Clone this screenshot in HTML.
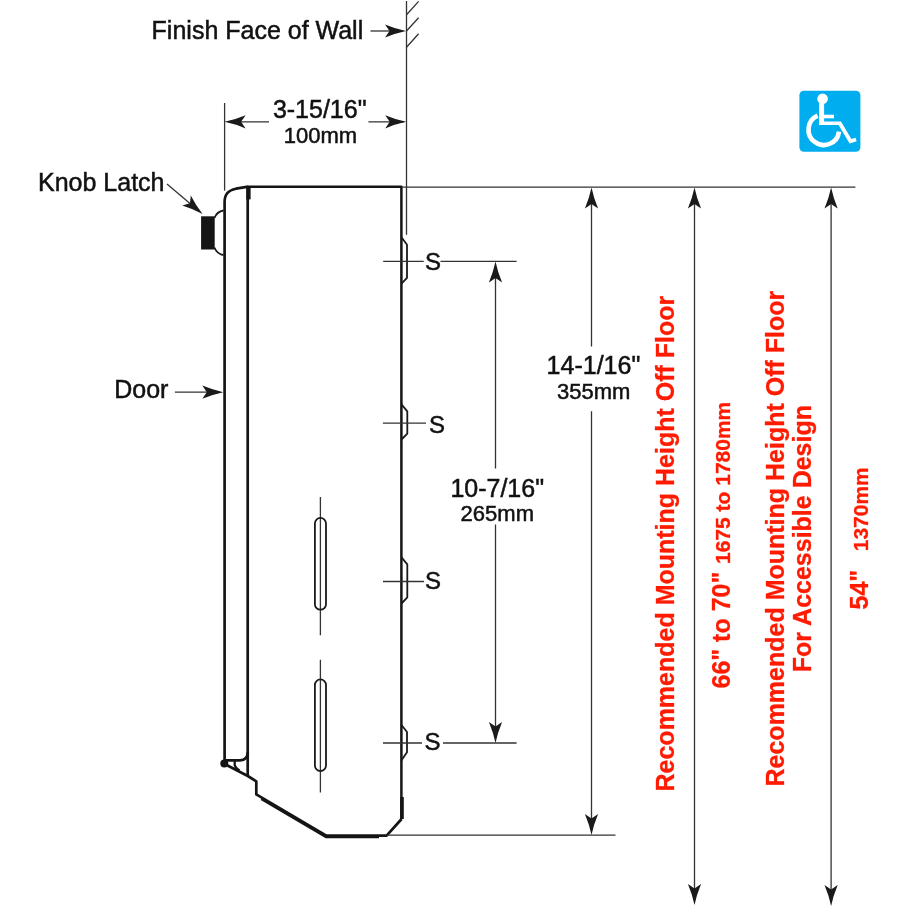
<!DOCTYPE html>
<html>
<head>
<meta charset="utf-8">
<style>
html,body{margin:0;padding:0;background:#fff;}
body{width:908px;height:908px;overflow:hidden;}
svg{display:block;will-change:transform;}
text{font-family:"Liberation Sans",sans-serif;}
.k{fill:#111;stroke:#111;stroke-width:0.5;}
.r{fill:#ff1a00;font-weight:700;stroke:#ff1a00;stroke-width:0.3;}
.thin{stroke:#333;stroke-width:1.3;fill:none;}
.med{stroke:#1a1a1a;stroke-width:1.8;fill:none;}
.thick{stroke:#151515;stroke-width:2.7;fill:none;stroke-linejoin:round;}
.ah{fill:#1a1a1a;}
</style>
</head>
<body>
<svg width="908" height="908" viewBox="0 0 908 908">
<defs>
  <!-- arrowhead pointing +x, tip at origin -->
  <path id="arr" d="M0,0 Q-10.5,-2.2 -21,-6.6 L-16.5,0 L-21,6.6 Q-10.5,2.2 0,0Z"/>
</defs>

<!-- ===== Labels (black) ===== -->
<text class="k" x="151.6" y="38.8" font-size="25">Finish Face of Wall</text>
<text class="k" x="38" y="191" font-size="25">Knob Latch</text>
<text class="k" x="114.2" y="397.9" font-size="25">Door</text>
<text class="k" x="272.9" y="118" font-size="25">3-15/16"</text>
<text class="k" x="283.8" y="142.9" font-size="22">100mm</text>
<text class="k" x="450.4" y="497" font-size="25">10-7/16"</text>
<text class="k" x="460.6" y="520.6" font-size="22">265mm</text>
<text class="k" x="546.6" y="373.7" font-size="25">14-1/16"</text>
<text class="k" x="557" y="398.5" font-size="22">355mm</text>
<text class="k" x="425" y="269.5" font-size="24">S</text>
<text class="k" x="429" y="432.8" font-size="24">S</text>
<text class="k" x="425" y="589.3" font-size="24">S</text>
<text class="k" x="424.5" y="750.2" font-size="24">S</text>

<!-- ===== Red vertical labels ===== -->
<text class="r" font-size="25" transform="translate(673.8,791.5) rotate(-90)">Recommended Mounting Height Off Floor</text>
<text class="r" font-size="25" transform="translate(730,688.5) rotate(-90)">66" to 70"</text>
<text class="r" font-size="21" transform="translate(730,564) rotate(-90)">1675 to 1780mm</text>
<text class="r" font-size="25" text-anchor="middle" transform="translate(783.5,538.6) rotate(-90)">Recommended Mounting Height Off Floor</text>
<text class="r" font-size="25" text-anchor="middle" transform="translate(811,538.6) rotate(-90)">For Accessible Design</text>
<text class="r" font-size="25" transform="translate(868.4,609.5) rotate(-90)">54"</text>
<text class="r" font-size="21" transform="translate(868.4,551.3) rotate(-90)">1370mm</text>

<!-- ===== Wall ===== -->
<path class="thin" d="M406.5,1 V234.8"/>
<path class="thin" d="M406.5,14.8 L418.6,1.4 M406.5,31 L418.6,17.8 M406.5,47.2 L418.6,33.7"/>
<path class="thin" d="M370.5,31 H392"/>
<use href="#arr" class="ah" transform="translate(406,31)"/>

<!-- 3-15/16 dim -->
<path class="thin" d="M224.6,103 V190.6"/>
<path class="thin" d="M228,121.8 H269 M368.4,121.8 H404"/>
<use href="#arr" class="ah" transform="translate(224.6,121.8) rotate(180)"/>
<use href="#arr" class="ah" transform="translate(406.2,121.8)"/>

<!-- Knob latch arrow -->
<path class="thin" d="M167,184 L190,203.5"/>
<use href="#arr" class="ah" transform="translate(202.6,214) rotate(40.1)"/>

<!-- Door arrow -->
<path class="thin" d="M174.9,392.2 H208"/>
<use href="#arr" class="ah" transform="translate(223.3,392.2)"/>

<!-- ===== Body ===== -->
<!-- knob -->
<rect x="201.1" y="216.3" width="13.6" height="33.2" fill="#151515"/>
<path class="med" d="M214.4,218 Q217,211.5 223.5,210.5 M214.4,247.5 Q217,254 223.5,255"/>
<!-- door outer -->
<path class="thick" d="M224.6,760.3 V202 C224.6,194 228,190.5 236,188.7 L248.3,186.7"/>
<!-- top -->
<path class="thick" style="stroke-width:2.5" d="M247.7,186.7 H401.4 V819"/>
<!-- inner line -->
<path class="thick" d="M247.7,186.7 V776"/>
<path d="M246.3,186 h4.3 v13.4 h-4.3z" fill="#151515"/>
<!-- door bottom -->
<path class="thick" d="M224.6,760.3 H240 Q247.8,760 247.8,752"/>
<circle cx="224.3" cy="763.5" r="4" fill="#151515"/>
<path class="thick" d="M224.6,764 L247.8,776 L256.3,781.3 V794.4 L326.3,835.6 H386.6 L401.6,819"/>
<path class="thick" style="stroke-width:2.3" d="M234.7,761 V765 Q235.5,768.5 239.5,770.5"/>
<!-- thick outline extras -->
<path d="M261.4,798.8 L326,836.8 H379" stroke="#151515" stroke-width="2.8" fill="none" stroke-linejoin="round"/>
<path d="M400.2,797 h3.6 v22 h-3.6z" fill="#151515"/>

<!-- brackets -->
<path class="med" d="M401.5,237.3 L407,244.7 V277.8 L401.5,283.6"/>
<path class="med" d="M401.5,404.4 L407.3,411.3 V433.6 L401.5,439.5"/>
<path class="med" d="M401.5,557.4 L407.3,564.3 V597.5 L401.5,603.5"/>
<path class="med" d="M401.5,725 L407,732 V752.3 L401.5,760.2"/>

<!-- S lines -->
<path class="thin" d="M383.2,261.3 H423.7 M440.5,261.3 H516.6"/>
<path class="thin" d="M382.9,423.2 H426"/>
<path class="thin" d="M383,581.5 H424"/>
<path class="thin" d="M383,743 H422 M443,743 H516.6"/>

<!-- slots -->
<path class="thin" d="M320.4,497.1 V635.3 M320.4,659.8 V792.6"/>
<rect x="314.9" y="517.9" width="11.1" height="91.8" rx="5.55" class="med"/>
<rect x="314.9" y="679.4" width="11.1" height="91.7" rx="5.55" class="med"/>

<!-- 10-7/16 dim -->
<path class="thin" d="M495.5,270 V468.5 M495.5,524.4 V735"/>
<use href="#arr" class="ah" transform="translate(495.5,261.4) rotate(-90)"/>
<use href="#arr" class="ah" transform="translate(495.5,743) rotate(90)"/>

<!-- extension lines -->
<path class="thin" d="M402,187.1 H855.4"/>
<path class="thin" d="M386.6,835.2 H615.5"/>

<!-- 14-1/16 dim -->
<path class="thin" d="M591.5,195 V346.5 M591.5,411.3 V828"/>
<use href="#arr" class="ah" transform="translate(591.5,187.5) rotate(-90)"/>
<use href="#arr" class="ah" transform="translate(591.5,835) rotate(90)"/>

<!-- long dims -->
<path class="thin" d="M694.5,195 V897 M831.1,195 V898"/>
<use href="#arr" class="ah" transform="translate(694.5,187.5) rotate(-90)"/>
<use href="#arr" class="ah" transform="translate(694.5,905) rotate(90)"/>
<use href="#arr" class="ah" transform="translate(831.1,187.5) rotate(-90)"/>
<use href="#arr" class="ah" transform="translate(831.1,906) rotate(90)"/>

<!-- ===== Wheelchair icon ===== -->
<rect x="799.4" y="90.7" width="61" height="61" rx="4.5" fill="#00aeef"/>
<g fill="#fff">
  <circle cx="822.6" cy="98.8" r="5.3"/>
  <rect x="819.1" y="99" width="5" height="26"/>
  <rect x="819" y="114.7" width="15" height="3.6"/>
  <path d="M819,121.4 H841 L851.4,139 L855.6,137.8 L856.6,141.3 L849.6,143.6 L838.6,125 H819Z"/>
  <path d="M817.6,115.7 A15.3,15.3 0 1 0 839,131.6" fill="none" stroke="#fff" stroke-width="4.6"/>
</g>
</svg>
</body>
</html>
